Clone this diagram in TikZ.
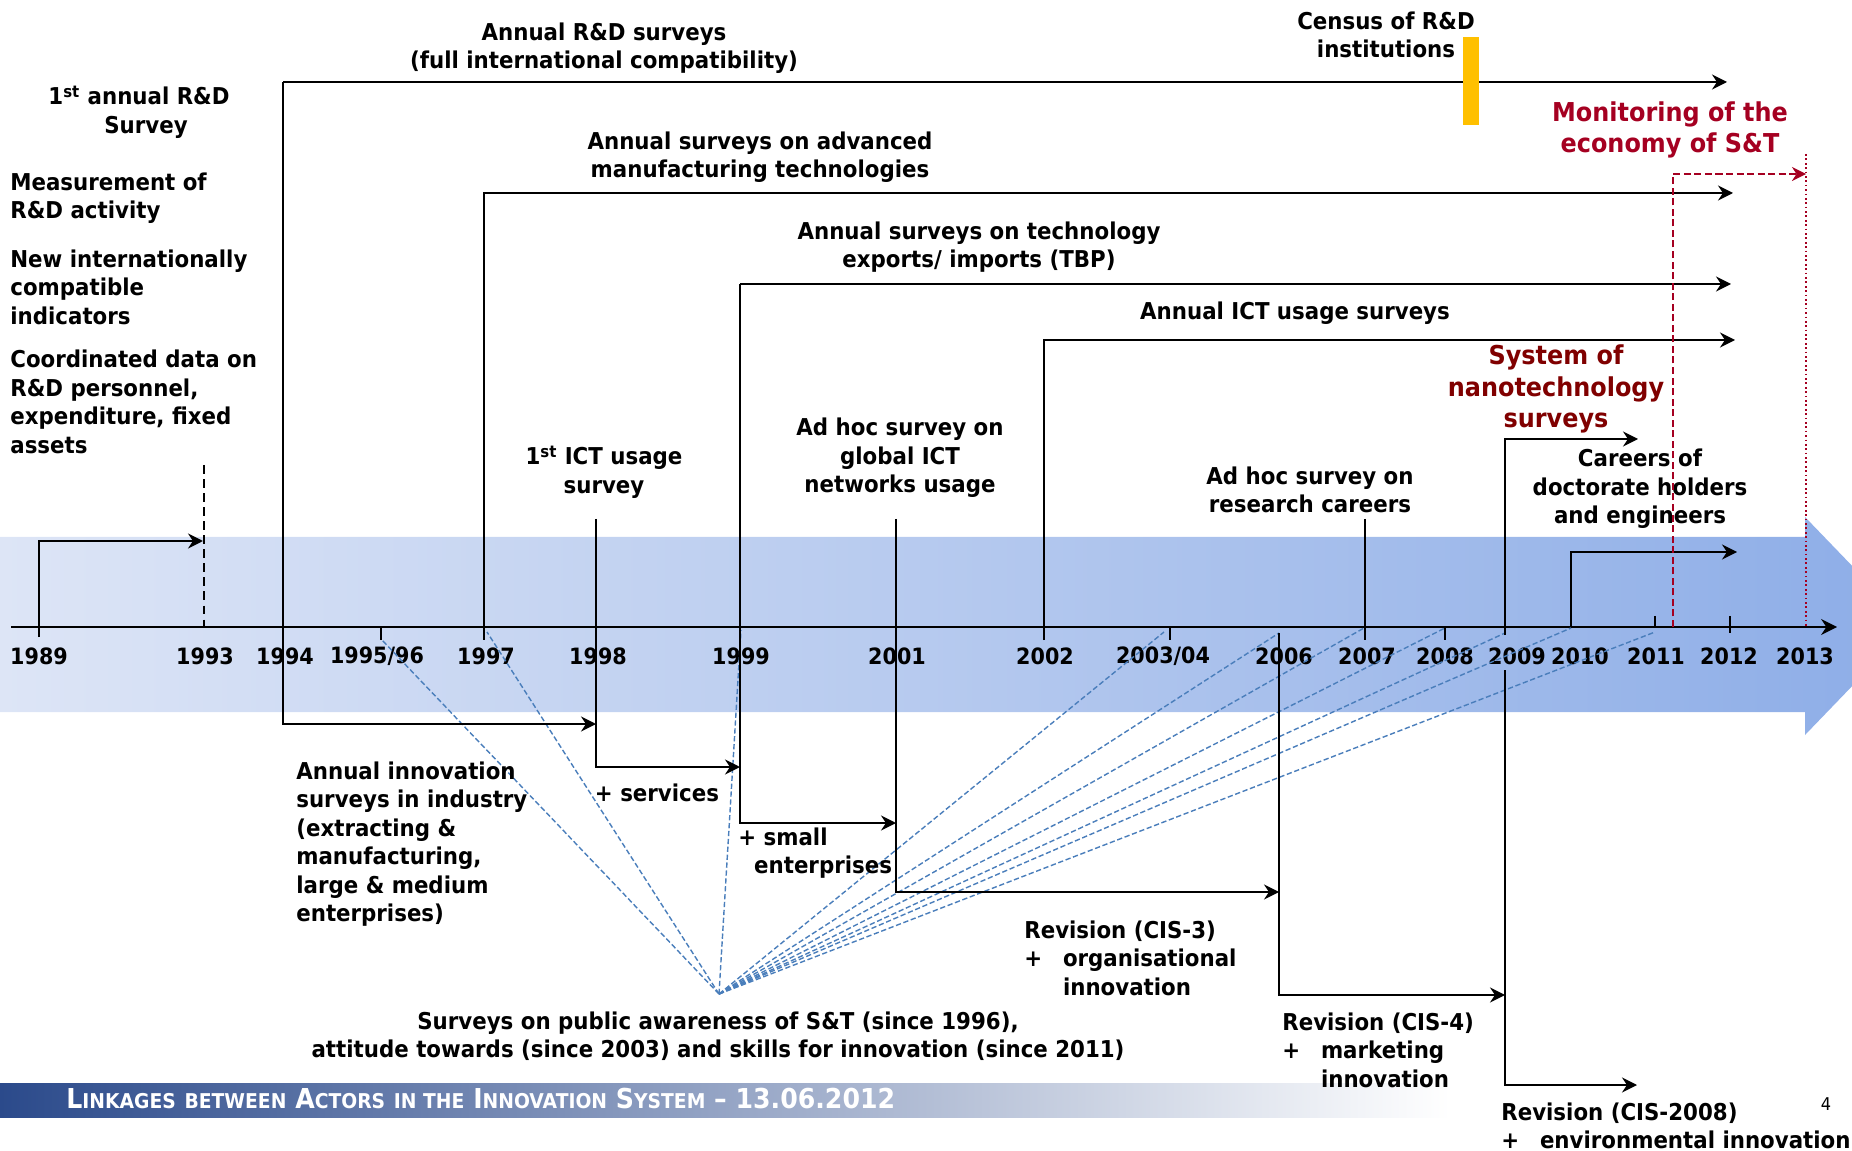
\documentclass[tikz,border=0pt]{standalone}
\usepackage{fontspec}
\setmainfont{DejaVu Sans}[FakeStretch=0.92]
\usepackage{tikz}
\usetikzlibrary{arrows.meta}

\definecolor{bandL}{HTML}{DDE5F6}
\definecolor{bandR}{HTML}{8DADE7}
\definecolor{fanblue}{HTML}{4A7EBB}
\definecolor{nanored}{HTML}{800000}
\definecolor{monred}{HTML}{A50021}
\definecolor{censusyel}{HTML}{FFC000}
\definecolor{footblue}{HTML}{2B4A8B}

\newcommand{\plusln}[1]{\makebox[22pt][l]{+}#1}
\newcommand{\scap}[2]{#1{\fontsize{11.6}{13}\selectfont #2}}

\begin{document}
\begin{tikzpicture}[x=0.02cm, y=-0.02cm,
  lbl/.style={font=\bfseries\fontsize{13.2}{16.2}\selectfont, inner sep=0pt, align=center},
  lbll/.style={lbl, align=left, anchor=west},
  yrlbl/.style={font=\bfseries\fontsize{12.8}{15}\selectfont, inner sep=0pt},
  redlbl/.style={lbl, font=\bfseries\fontsize{14.8}{17.8}\selectfont},
  arr/.style={line width=1.6pt, -{Stealth[length=8.5pt,width=8.5pt]}},
  tick/.style={line width=1.2pt},
  fan/.style={fanblue, line width=0.8pt, dash pattern=on 3pt off 1.5pt}]
\useasboundingbox (0,0) rectangle (1852,1151);
\clip (0,0) rectangle (1852,1151);

% --- background band and footer ---
\shade[left color=bandL, right color=bandR] (0,537) -- (1805,537) -- (1805,517) -- (1910,626) -- (1805,735) -- (1805,712) -- (0,712) -- cycle;
\shade[left color=footblue, middle color=footblue!45, right color=white] (0,1083) rectangle (1450,1117);
\node[anchor=west, text=white, inner sep=0pt, font=\bfseries\fontsize{15.6}{17}\selectfont] (foot) at (66,1099)
  {\scap{L}{INKAGES} \scap{}{BETWEEN} \scap{A}{CTORS} \scap{}{IN THE} \scap{I}{NNOVATION} \scap{S}{YSTEM} -- 13.06.2012};
\node[inner sep=0pt, font=\fontsize{10}{12}\selectfont] (pgno) at (1826,1104) {4};

% --- time axis ---
\coordinate (ax0) at (11,627);
\coordinate (ax1) at (1837,627);
\draw[line width=1.6pt, -{Stealth[length=9pt,width=9pt]}] (ax0) -- (ax1);
\foreach \tx in {381,484,1044,1170,1365,1445}
  \draw[tick] (\tx,627) -- (\tx,640);
\draw[tick] (1655,616) -- (1655,627);
\draw[tick] (1730,616) -- (1730,633);
\foreach \lx/\lab [count=\i] in {39/1989, 205/1993, 285/1994, 377/{1995/96}, 486/1997, 598/1998, 741/1999, 897/2001, 1045/2002, 1163/{2003/04}, 1284/2006, 1367/2007, 1445/2008, 1517/2009, 1580/2010, 1656/2011, 1729/2012, 1805/2013}
  \node[yrlbl] (yr\i) at (\lx,656) {\lab};

% --- surveys on public awareness (fan) ---
\coordinate (focus) at (719,994);
\foreach \fx/\fy [count=\i] in {381/639, 487/632, 741/630, 1164/632, 1279/633, 1364/628, 1445/628, 1505/633, 1571/628, 1655/632}{
  \coordinate (fe\i) at (\fx,\fy);
  \draw[fan] (focus) -- (fe\i);
}
\node[lbl] (aware) at (718,1036) {Surveys on public awareness of S\&T (since 1996),\\attitude towards (since 2003) and skills for innovation (since 2011)};

% --- R&D surveys ---
\coordinate (s89) at (39,637);
\coordinate (e93) at (203,541);
\draw[arr] (s89) |- (e93);
\coordinate (d93a) at (204,465);
\coordinate (d93b) at (204,627);
\draw[line width=1pt, dash pattern=on 5pt off 3pt] (d93a) -- (d93b);
\node[lbl] (first) at (139,112) {1\textsuperscript{st} annual R\&D\\\hspace*{8pt}Survey};
\node[lbll] (meas) at (10,198) {Measurement of\\R\&D activity};
\node[lbll] (newind) at (10,287) {New internationally\\compatible\\indicators};
\node[lbll] (coord) at (10,402) {Coordinated data on\\R\&D personnel,\\expenditure, fixed\\assets};

\coordinate (c94) at (283,82);
\coordinate (e94) at (1727,82);
\draw[arr] (c94) -- (e94);
\node[lbl] (annrd) at (604,48) {Annual R\&D surveys\\(full international compatibility)};
\fill[censusyel] (1463,37) rectangle (1479,125);
\node[lbl] (census) at (1386,35) {Census of R\&D\\institutions};

% --- innovation surveys ---
\coordinate (i98) at (596,724);
\draw[arr] (c94) |- (i98);
\node[lbll] (innov) at (296,844) {Annual innovation\\surveys in industry\\(extracting \&\\manufacturing,\\large \& medium\\enterprises)};
\coordinate (c98) at (596,519);
\coordinate (i99) at (740,767);
\draw[arr] (c98) |- (i99);
\node[lbl] (serv) at (657,793) {+ services};
\coordinate (c99) at (740,284);
\coordinate (i01) at (896,823);
\draw[arr] (c99) |- (i01);
\node[lbll] (small) at (738,853) {+ small\\\hspace*{9pt}enterprises};
\coordinate (c01) at (896,519);
\coordinate (i06) at (1279,892);
\draw[arr] (c01) |- (i06);
\node[lbll] (cis3) at (1024,958) {Revision (CIS-3)\\\plusln{organisational}\\\hspace*{22pt}innovation};
\coordinate (b06) at (1279,633);
\coordinate (i09) at (1505,995);
\draw[arr] (b06) |- (i09);
\node[lbll] (cis4) at (1282,1050) {Revision (CIS-4)\\\plusln{marketing}\\\hspace*{22pt}innovation};
\coordinate (l09) at (1505,670);
\coordinate (i11) at (1637,1085);
\draw[arr] (l09) |- (i11);
\node[lbll] (cis08) at (1501,1126) {Revision (CIS-2008)\\\plusln{environmental innovation}};

% --- technology and ICT surveys ---
\coordinate (b97) at (484,627);
\coordinate (e97) at (1733,193);
\draw[arr] (b97) |- (e97);
\node[lbl] (amt) at (760,157) {Annual surveys on advanced\\manufacturing technologies};
\coordinate (e99) at (1731,284);
\draw[arr] (c99) -- (e99);
\node[lbl] (tbp) at (979,247) {Annual surveys on technology\\exports/ imports (TBP)};
\coordinate (b02) at (1044,640);
\coordinate (e02) at (1735,340);
\draw[arr] (b02) |- (e02);
\node[lbl] (ict) at (1295,313) {Annual ICT usage surveys};
\node[lbl] (ict1) at (604,472) {1\textsuperscript{st} ICT usage\\survey};
\node[lbl] (glob) at (900,458) {Ad hoc survey on\\global ICT\\networks usage};

% --- careers and nanotechnology ---
\coordinate (c07) at (1365,519);
\coordinate (b07) at (1365,640);
\draw[tick] (c07) -- (b07);
\node[lbl] (rescar) at (1310,490) {Ad hoc survey on\\research careers};
\coordinate (b09) at (1505,635);
\coordinate (e09) at (1638,439);
\draw[arr] (b09) |- (e09);
\node[redlbl, text=nanored] (nano) at (1556,389) {System of\\nanotechnology\\surveys};
\coordinate (b10) at (1571,627);
\coordinate (e10) at (1737,552);
\draw[arr] (b10) |- (e10);
\node[lbl] (cdh) at (1640,489) {Careers of\\doctorate holders\\and engineers};

% --- monitoring of the economy of S&T ---
\coordinate (b11) at (1673,627);
\coordinate (e13) at (1806,174);
\draw[monred, line width=1.1pt, dash pattern=on 4pt off 2pt, -{Stealth[length=8pt,width=8pt]}] (b11) |- (e13);
\coordinate (d13a) at (1806,154);
\coordinate (d13b) at (1806,627);
\draw[monred, line width=1pt, dash pattern=on 1pt off 1.5pt] (d13a) -- (d13b);
\node[redlbl, text=monred] (mon) at (1670,130) {Monitoring of the\\economy of S\&T};
\end{tikzpicture}
\end{document}
